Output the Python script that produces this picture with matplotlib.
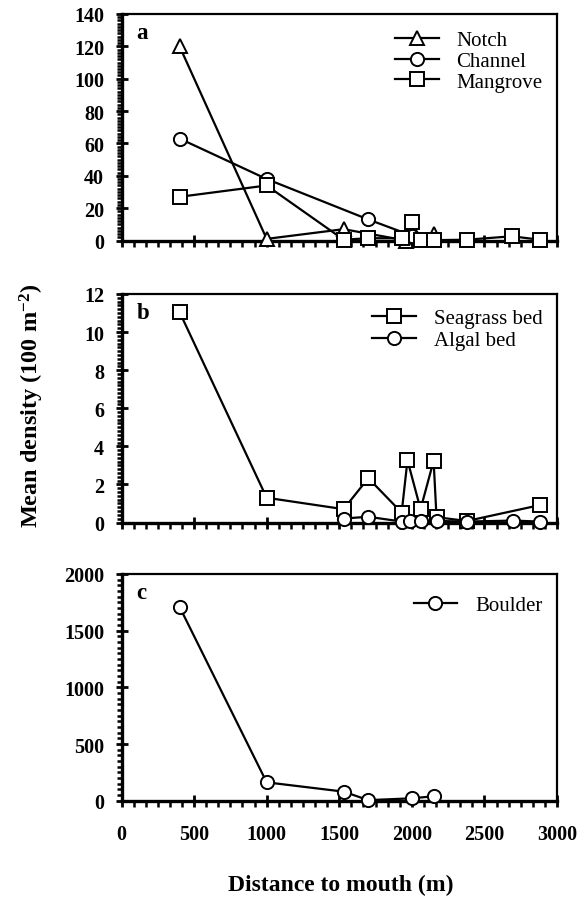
import matplotlib
matplotlib.use("Agg")
import matplotlib.pyplot as plt
from matplotlib.ticker import MultipleLocator, AutoMinorLocator

plt.rcParams['font.family'] = ['Liberation Serif', 'DejaVu Serif']
plt.rcParams['mathtext.fontset'] = 'custom'
plt.rcParams['mathtext.rm'] = 'Liberation Serif:bold'
plt.rcParams['mathtext.it'] = 'Liberation Serif:bold'
plt.rcParams['mathtext.bf'] = 'Liberation Serif:bold'

# Panel a
notch_x = [400, 1000, 1530, 1960, 2150]
notch_y = [120, 1, 7, 0, 4]
channel_x = [400, 1000, 1700, 2000, 2150]
channel_y = [63, 38, 13, 3, 1]
mangrove_x = [400, 1000, 1530, 1700, 1930, 2000, 2060, 2150, 2380, 2690, 2880]
mangrove_y = [27, 34, 0.5, 1.4, 1.4, 11.6, 0.5, 0.2, 0.5, 2.6, 0.5]

# Panel b
seagrass_x = [400, 1000, 1530, 1700, 1930, 1970, 2060, 2150, 2170, 2380, 2880]
seagrass_y = [11.05, 1.3, 0.7, 2.33, 0.52, 3.27, 0.7, 3.24, 0.28, 0.08, 0.91]
algal_x = [1530, 1700, 1930, 1990, 2060, 2170, 2380, 2700, 2880]
algal_y = [0.21, 0.3, 0.05, 0.1, 0.1, 0.08, 0.05, 0.1, 0.05]

# Panel c
boulder_x = [400, 1000, 1530, 1700, 2000, 2150]
boulder_y = [1710, 162, 80, 5, 21, 39]

x_ticks = [0, 500, 1000, 1500, 2000, 2500, 3000]

fig = plt.figure(figsize=(5.88, 9.03), dpi=100)
W = 588.0
H = 903.0

def axrect(l, r, t, b):
    return [l / W, 1 - b / H, (r - l) / W, (b - t) / H]

ax_a = fig.add_axes(axrect(121.5, 557, 15, 241.5))
ax_b = fig.add_axes(axrect(121.5, 557, 295, 523.5))
ax_c = fig.add_axes(axrect(121.5, 557, 575, 801.7))

TICK_SIZE = 14.5
tick_font = dict(family='Liberation Serif', weight='bold', size=TICK_SIZE)
line_kw = dict(color='black', lw=1.6, mfc='white', mec='black', mew=1.4, ms=9.5, clip_on=False)

def style(ax, ymax, ymajor, yminor, show_x):
    ax.set_xlim(0, 3000)
    ax.set_ylim(0, ymax)
    ax.xaxis.set_major_locator(MultipleLocator(500))
    ax.xaxis.set_minor_locator(AutoMinorLocator(6))
    ax.yaxis.set_major_locator(MultipleLocator(ymajor))
    ax.yaxis.set_minor_locator(MultipleLocator(yminor))
    for s in ['left', 'bottom']:
        ax.spines[s].set_linewidth(2.4)
    for s in ['top', 'right']:
        ax.spines[s].set_linewidth(1.6)
    ax.tick_params(axis='y', which='major', direction='inout', length=9, width=2, pad=8)
    ax.tick_params(axis='y', which='minor', direction='out', length=3.5, width=1.8)
    ax.tick_params(axis='x', which='major', direction='inout', length=9, width=2, pad=12)
    ax.tick_params(axis='x', which='minor', direction='out', length=4, width=1.8)
    if show_x:
        ax.set_xticks(x_ticks)
        ax.set_xticklabels([str(v) for v in x_ticks], **tick_font)
    else:
        ax.set_xticklabels([])

style(ax_a, 140, 20, 2, False)
style(ax_b, 12, 2, 0.2, False)
style(ax_c, 2000, 500, 50, True)

for ax in (ax_a, ax_b, ax_c):
    for lab in ax.get_yticklabels():
        lab.set_fontfamily('Liberation Serif')
        lab.set_fontweight('bold')
        lab.set_fontsize(TICK_SIZE)

# Panel a
ax_a.plot(notch_x, notch_y, marker='^', label='Notch', zorder=3, **line_kw)
ax_a.plot(channel_x, channel_y, marker='o', label='Channel', zorder=3, **line_kw)
ax_a.plot(mangrove_x, mangrove_y, marker='s', label='Mangrove', zorder=3, **line_kw)

# Panel b
ax_b.plot(seagrass_x, seagrass_y, marker='s', label='Seagrass bed', zorder=3, **line_kw)
ax_b.plot(algal_x, algal_y, marker='o', label='Algal bed', zorder=3, **line_kw)

# Panel c
ax_c.plot(boulder_x, boulder_y, marker='o', label='Boulder', zorder=3, **line_kw)

def leg(ax, anchor, spacing):
    ax.legend(frameon=False, loc='upper right', bbox_to_anchor=anchor,
              prop=dict(family='Liberation Serif', size=15),
              handlelength=2.1, handletextpad=0.85, labelspacing=spacing, borderaxespad=0.3)

leg(ax_a, (1.0, 0.99), 0.05)
leg(ax_b, (1.0, 1.0), 0.12)
leg(ax_c, (1.0, 0.97), 0.1)

for ax, letter in ((ax_a, 'a'), (ax_b, 'b'), (ax_c, 'c')):
    ax.text(0.035, 0.965, letter, transform=ax.transAxes, ha='left', va='top',
            family='Liberation Serif', weight='bold', size=16.5)

fig.text(32 / W, 1 - 406 / H, 'Mean density (100 m$^{-2}$)', rotation=90, ha='center', va='center',
         family='Liberation Serif', weight='bold', size=17.5)
fig.text(341 / W, 1 - 885 / H, 'Distance to mouth (m)', ha='center', va='center',
         family='Liberation Serif', weight='bold', size=17)

fig.savefig('out.png', dpi=100)
